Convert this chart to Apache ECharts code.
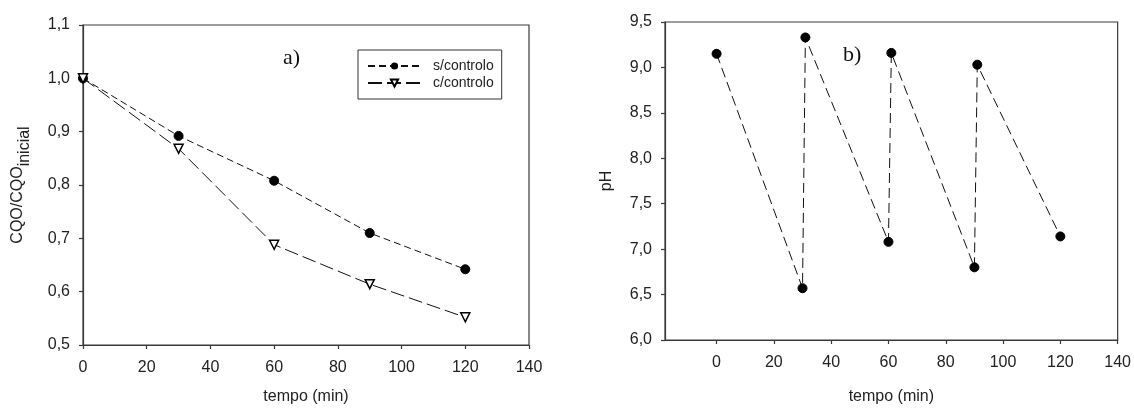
<!DOCTYPE html>
<html><head><meta charset="utf-8">
<script src="https://cdn.jsdelivr.net/npm/echarts@6/dist/echarts.min.js"></script>
<style>html,body{margin:0;padding:0;background:#fff}#c{width:1134px;height:410px}</style>
</head><body><div id="c"></div>
<script>
// ---- data ----
const timeA = [0, 30, 60, 90, 120];
const semControlo = [1.0, 0.892, 0.808, 0.710, 0.642];
const comControlo = [1.0, 0.868, 0.688, 0.614, 0.552];
const timeB = [0, 30, 31, 60, 61, 90, 91, 120];
const pHValues = [9.15, 6.57, 9.33, 7.08, 9.16, 6.80, 9.03, 7.14];
const xTickValues = [0, 20, 40, 60, 80, 100, 120, 140];
const seriesNames = ['s/controlo', 'c/controlo'];

const FONT = "'Liberation Sans', Arial, sans-serif";
const comma = v => Number(v).toFixed(1).replace('.', ',');
const axisCol = '#3a3a3a';
const txtCol = '#222';

const baseX = {
  type: 'value',
  axisLine: { show: true, onZero: false, lineStyle: { color: axisCol, width: 1.2 } },
  axisTick: { show: true, inside: false, length: 4, lineStyle: { color: axisCol, width: 1.2 } },
  axisLabel: { fontSize: 16, fontFamily: FONT, color: txtCol, margin: 15 },
  splitLine: { show: false },
  name: 'tempo (min)', nameLocation: 'middle',
  nameTextStyle: { fontSize: 16, fontFamily: FONT, color: txtCol }
};
const baseY = {
  type: 'value',
  axisLine: { show: true, onZero: false, lineStyle: { color: axisCol, width: 1.2 } },
  axisTick: { show: true, inside: false, length: 4, lineStyle: { color: axisCol, width: 1.2 } },
  axisLabel: { fontSize: 16, fontFamily: FONT, color: txtCol, margin: 13, formatter: comma },
  splitLine: { show: false },
  nameLocation: 'middle', nameRotate: 90
};

const chart = echarts.init(document.getElementById('c'), null, { renderer: 'canvas' });
chart.setOption({
  animation: false,
  backgroundColor: '#fff',
  title: [
    { text: 'a)', left: 283, top: 47, textStyle: { fontFamily: "'Liberation Serif', 'Times New Roman', serif", fontSize: 22, fontWeight: 'normal', color: '#111' }, padding: 0 },
    { text: 'b)', left: 843, top: 44, textStyle: { fontFamily: "'Liberation Serif', 'Times New Roman', serif", fontSize: 22, fontWeight: 'normal', color: '#111' }, padding: 0 }
  ],
  grid: [
    { left: 83, top: 25, width: 446, height: 322, show: true, borderColor: axisCol, borderWidth: 1.2 },
    { left: 665, top: 22, width: 453, height: 326, show: true, borderColor: axisCol, borderWidth: 1.2 }
  ],
  legend: {
    left: 358, top: 50, orient: 'vertical',
    padding: [9, 8, 9, 9], itemGap: 3, itemWidth: 53, itemHeight: 9,
    borderColor: '#333', borderWidth: 1,
    textStyle: { fontSize: 14, lineHeight: 14, fontFamily: FONT, color: txtCol, padding: [0, 0, 0, 7] },
    data: seriesNames
  },
  xAxis: [
    Object.assign({}, baseX, { gridIndex: 0, min: 0, max: 140, interval: 20, nameGap: 44 }),
    Object.assign({}, baseX, {
      gridIndex: 1, min: -18, max: 140, nameGap: 49,
      axisTick: Object.assign({}, baseX.axisTick, { customValues: xTickValues }),
      axisLabel: Object.assign({}, baseX.axisLabel, { customValues: xTickValues })
    })
  ],
  yAxis: [
    Object.assign({}, baseY, {
      gridIndex: 0, min: 0.5, max: 1.1, interval: 0.1, nameGap: 50,
      name: '{m|CQO/CQO}{s|inicial}',
      nameTextStyle: {
        fontSize: 16, fontFamily: FONT, color: txtCol,
        rich: {
          m: { fontSize: 16, fontFamily: FONT, color: txtCol, verticalAlign: 'bottom', padding: [0, 0, 7, 0] },
          s: { fontSize: 16, fontFamily: FONT, color: txtCol, verticalAlign: 'bottom' }
        }
      }
    }),
    Object.assign({}, baseY, {
      gridIndex: 1, min: 6, max: 9.5, interval: 0.5, nameGap: 50,
      name: 'pH',
      nameTextStyle: { fontSize: 16, fontFamily: FONT, color: txtCol }
    })
  ],
  series: [
    {
      name: seriesNames[0], type: 'line', xAxisIndex: 0, yAxisIndex: 0,
      data: timeA.map((t, i) => [t, semControlo[i]]),
      symbol: 'circle', symbolSize: 9,
      lineStyle: { color: '#111', width: 1, type: [7, 4] },
      itemStyle: { color: '#000', borderColor: '#000' }
    },
    {
      name: seriesNames[1], type: 'line', xAxisIndex: 0, yAxisIndex: 0,
      data: timeA.map((t, i) => [t, comControlo[i]]),
      symbol: 'triangle', symbolRotate: 180, symbolSize: 9,
      lineStyle: { color: '#111', width: 1, type: [14, 5] },
      itemStyle: { color: '#fff', borderColor: '#000', borderWidth: 1.5 }
    },
    {
      name: 'pH', type: 'line', xAxisIndex: 1, yAxisIndex: 1,
      data: timeB.map((t, i) => [t, pHValues[i]]),
      symbol: 'circle', symbolSize: 9,
      lineStyle: { color: '#111', width: 1, type: [10, 5] },
      itemStyle: { color: '#000', borderColor: '#000' }
    }
  ]
});
</script>
</body></html>
